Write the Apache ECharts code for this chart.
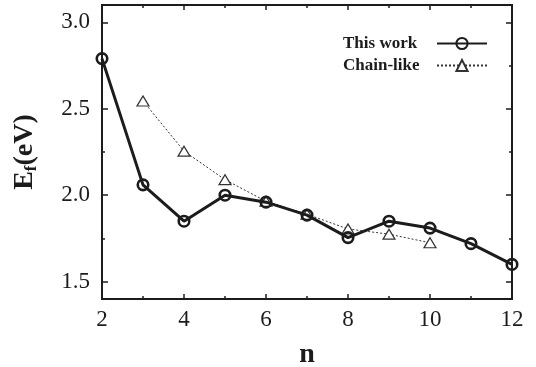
<!DOCTYPE html>
<html>
<head>
<meta charset="utf-8">
<script src="https://cdn.jsdelivr.net/npm/echarts@6/dist/echarts.min.js"></script>
<style>
  html, body { margin: 0; padding: 0; background: #fff; }
  #chart { width: 536px; height: 367px; }
</style>
</head>
<body>
<div id="chart"></div>
<script>
const nValues = [2, 3, 4, 5, 6, 7, 8, 9, 10, 11, 12];
const thisWork = [2.79, 2.06, 1.85, 2.00, 1.96, 1.885, 1.755, 1.85, 1.81, 1.72, 1.60];
const chainN = [3, 4, 5, 6, 7, 8, 9, 10];
const chainLike = [2.545, 2.255, 2.09, 1.965, 1.89, 1.805, 1.775, 1.725];
const yTicks = [1.5, 2.0, 2.5, 3.0];
const yMinorTicks = [1.75, 2.25, 2.75];

const INK = "#1c1c1c";
const SERIF = "Liberation Serif, Times New Roman, serif";

const chart = echarts.init(document.getElementById("chart"));

const yBase = { type: "value", min: 1.4, max: 3.1, splitLine: { show: false } };
const xBase = { type: "value", min: 2, max: 12, splitLine: { show: false } };

chart.setOption({
  animation: false,
  grid: {
    left: 102, right: 24, top: 5, bottom: 68,
    outerBoundsMode: "none", containLabel: false,
    show: true, borderColor: INK, borderWidth: 2,
  },
  legend: {
    orient: "vertical",
    left: 338,
    top: 30,
    align: "right",
    itemWidth: 50,
    itemHeight: 14,
    itemGap: 5,
    formatter: "{t|{name}}",
    textStyle: {
      rich: {
        t: { fontFamily: SERIF, fontWeight: "bold", fontSize: 17, color: INK, width: 89, align: "left" },
      },
    },
    data: ["This work", "Chain-like"],
  },
  xAxis: [
    {
      ...xBase,
      interval: 2,
      axisLine: { lineStyle: { color: INK, width: 2 } },
      axisTick: { inside: true, length: 5, lineStyle: { color: INK, width: 1.5 } },
      minorTick: { show: true, splitNumber: 2, length: 3, lineStyle: { color: INK, width: 1.5 } },
      axisLabel: { fontFamily: SERIF, fontSize: 23, color: INK, margin: 9 },
      name: "n",
      nameLocation: "middle",
      nameGap: 42,
      nameTextStyle: { fontFamily: SERIF, fontWeight: "bold", fontSize: 28, color: INK },
    },
    {
      ...xBase,
      interval: 2,
      position: "top",
      axisLine: { lineStyle: { color: INK, width: 2 } },
      axisTick: { inside: true, length: 5, lineStyle: { color: INK, width: 1.5 } },
      minorTick: { show: true, splitNumber: 2, length: 3, lineStyle: { color: INK, width: 1.5 } },
      axisLabel: { show: false },
    },
  ],
  yAxis: [
    {
      ...yBase,
      axisLine: { show: true, lineStyle: { color: INK, width: 2 } },
      axisTick: { inside: true, length: 6, customValues: yTicks, lineStyle: { color: INK, width: 1.5 } },
      axisLabel: {
        customValues: yTicks,
        fontFamily: SERIF, fontSize: 23, color: INK, margin: 12,
        formatter: (v) => v.toFixed(1),
      },
      name: "{a|E}{s|f}{a|(eV)}",
      nameLocation: "middle",
      nameGap: 62,
      nameTextStyle: {
        rich: {
          a: { fontFamily: SERIF, fontWeight: "bold", fontSize: 28, color: INK },
          s: { fontFamily: SERIF, fontWeight: "bold", fontSize: 17, color: INK, padding: [14, 0, 0, 0] },
        },
      },
    },
    {
      ...yBase,
      position: "right",
      axisLine: { show: true, lineStyle: { color: INK, width: 2 } },
      axisTick: { inside: true, length: 6, customValues: yTicks, lineStyle: { color: INK, width: 1.5 } },
      axisLabel: { show: false },
    },
    {
      ...yBase,
      position: "left",
      axisLine: { show: false },
      axisTick: { inside: true, length: 3, customValues: yMinorTicks, lineStyle: { color: INK, width: 1.5 } },
      axisLabel: { show: false },
    },
    {
      ...yBase,
      position: "right",
      axisLine: { show: false },
      axisTick: { inside: true, length: 3, customValues: yMinorTicks, lineStyle: { color: INK, width: 1.5 } },
      axisLabel: { show: false },
    },
  ],
  series: [
    {
      name: "Chain-like",
      type: "line",
      data: chainN.map((n, i) => [n, chainLike[i]]),
      symbol: "triangle",
      symbolSize: [12, 10],
      lineStyle: { color: "#333", width: 1, type: [2, 2] },
      itemStyle: { color: "#fff", borderColor: "#333", borderWidth: 1.2 },
      z: 2,
    },
    {
      name: "This work",
      type: "line",
      data: nValues.map((n, i) => [n, thisWork[i]]),
      symbol: "circle",
      symbolSize: 10.5,
      lineStyle: { color: INK, width: 3 },
      itemStyle: { color: "transparent", borderColor: INK, borderWidth: 2.6 },
      z: 3,
    },
  ],
});
</script>
</body>
</html>
